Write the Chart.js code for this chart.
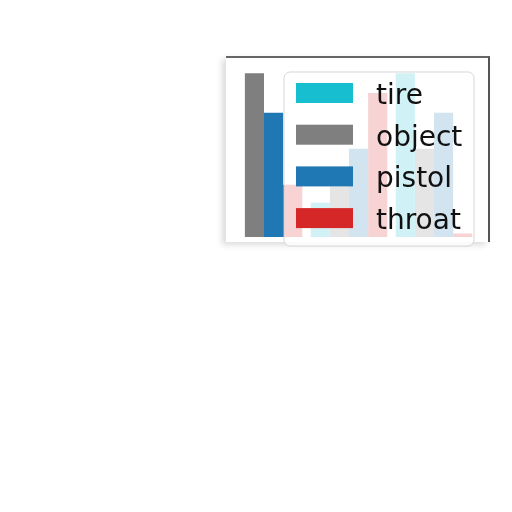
<!DOCTYPE html>
<html>
<head>
<meta charset="utf-8">
<script src="https://cdn.jsdelivr.net/npm/chart.js@4/dist/chart.umd.min.js"></script>
<style>
  html, body { margin: 0; padding: 0; background: #fff; }
  #wrap { position: relative; width: 512px; height: 512px; }
  #frame {
    position: absolute; left: 226px; top: 56px; width: 262px; height: 184px;
    border-top: 2px solid #666; border-right: 2px solid #555;
    box-shadow: -4px 3px 6px rgba(0,0,0,0.14);
    background: #fff;
  }
  canvas { position: absolute; left: 0; top: 0; }
</style>
</head>
<body>
<div id="wrap">
  <div id="frame"></div>
  <canvas id="c" width="512" height="512"></canvas>
</div>
<script>
(() => {
  const groups = ["A", "B", "C"];
  const tire = [0, 19, 91];
  const object = [91, 28, 49];
  const pistol = [69, 49, 69];
  const throat = [29, 80, 2];
  const seriesNames = ["tire", "object", "pistol", "throat"];
  const seriesColors = ["#17becf", "#7f7f7f", "#1f77b4", "#d62728"];

  // legend sits over the bars, half see-through like matplotlib's
  const overlayLegend = {
    id: "overlayLegend",
    afterDraw(chart) {
      const ctx = chart.ctx;
      const x = 284, y = 72, w = 190, h = 174;
      ctx.save();
      ctx.beginPath();
      ctx.roundRect(x, y, w, h, 6);
      ctx.fillStyle = "rgba(255,255,255,0.8)";
      ctx.fill();
      ctx.strokeStyle = "rgba(204,204,204,0.8)";
      ctx.lineWidth = 1;
      ctx.stroke();
      ctx.font = "28px 'DejaVu Sans'";
      ctx.textBaseline = "alphabetic";
      seriesNames.forEach((name, i) => {
        const rowY = 93 + i * 41.7;
        ctx.fillStyle = seriesColors[i];
        ctx.fillRect(296, rowY - 10, 57, 20);
        ctx.fillStyle = "#111";
        ctx.fillText(name, 376, rowY + 11);
      });
      ctx.restore();
    },
  };

  // eslint-disable-next-line no-new
  new Chart(document.getElementById("c"), {
    type: "bar",
    plugins: [overlayLegend],
    data: {
      labels: groups,
      datasets: [tire, object, pistol, throat].map((d, i) => ({
        label: seriesNames[i],
        data: d,
        backgroundColor: seriesColors[i],
        barPercentage: 1.0,
        categoryPercentage: 0.9,
      })),
    },
    options: {
      animation: false,
      responsive: false,
      layout: { padding: { left: 221.5, right: 35.5, top: 57, bottom: 275 } },
      plugins: { legend: { display: false }, tooltip: { enabled: false } },
      scales: {
        x: { display: false },
        y: { display: false, min: 0, max: 100 },
      },
    },
  });
})();
</script>
</body>
</html>
